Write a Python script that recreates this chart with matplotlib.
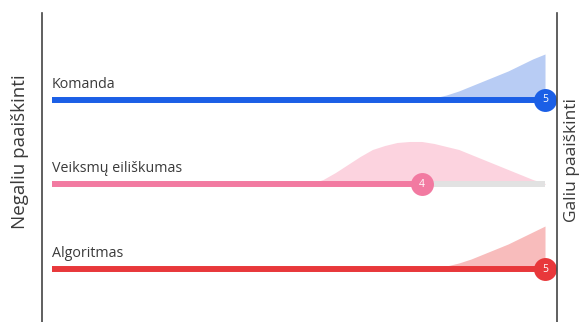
import numpy as np
import matplotlib
matplotlib.use("Agg")
import matplotlib.pyplot as plt

plt.rcParams["font.family"] = ["Open Sans", "DejaVu Sans"]

# rating scale 1..5; each row: mean score + answer distribution
CATEGORIES = ["Komanda", "Veiksmų eiliškumas", "Algoritmas"]
SCORES = [5, 4, 5]
BAR_COLORS = ["#1b5fe6", "#f27aa1", "#e8383b"]
FILL_COLORS = ["#b8ccf4", "#fcd3df", "#f8bcbc"]
LEFT_LABEL = "Negaliu paaiškinti"
RIGHT_LABEL = "Galiu paaiškinti"

# distribution curves (score grid, relative density)
DIST_X = [
    [4.0, 4.1, 4.2, 4.3, 4.4, 4.5, 4.6, 4.7, 4.8, 4.9, 5.0],
    [3.0, 3.1, 3.2, 3.3, 3.4, 3.5, 3.6, 3.7, 3.8, 3.9, 4.0,
     4.1, 4.2, 4.3, 4.4, 4.5, 4.6, 4.7, 4.8, 4.9, 5.0],
    [4.0, 4.1, 4.2, 4.3, 4.4, 4.5, 4.6, 4.7, 4.8, 4.9, 5.0],
]
DIST_Y = [
    [0, 2, 5, 9, 14, 19, 24, 29, 35, 41, 46],
    [0, 1, 5, 12, 20, 28, 35, 39, 42, 43, 43,
     41, 38, 35, 30, 25, 20, 15, 10, 5, 1],
    [0, 1, 3, 6, 10, 15, 20, 25, 31, 37, 43],
]
DIST_SCALE = 1 / 84.5          # density units -> row spacing
SCALE_MIN, SCALE_MAX = 1, 5

fig = plt.figure(figsize=(5.81, 3.22), dpi=100)
ax = fig.add_axes([0, 0, 1, 1])
ax.set_xlim(0.578, 5.292)
ax.set_ylim(2.627, -1.183)
ax.axis("off")

for i, (name, score) in enumerate(zip(CATEGORIES, SCORES)):
    dx = np.array(DIST_X[i])
    dy = np.array(DIST_Y[i]) * DIST_SCALE
    ax.fill_between(dx, i, i - dy, color=FILL_COLORS[i], lw=0, zorder=1)
    # remaining part of the scale
    ax.plot([score, SCALE_MAX], [i, i], color="#e2e2e2", lw=4.3,
            solid_capstyle="butt", zorder=2)
    ax.plot([SCALE_MIN, score], [i, i], color=BAR_COLORS[i], lw=4.3,
            solid_capstyle="butt", zorder=3)
    ax.plot(score, i, "o", ms=16.5, color=BAR_COLORS[i], mec="none", zorder=4)
    ax.text(score, i, str(score), color="white", fontsize=7.5,
            ha="center", va="center", zorder=5)
    ax.text(SCALE_MIN, i - 0.145, name, fontsize=10.3, color="#3a3a3a",
            ha="left", va="baseline")

# end walls of the scale
for xv in (0.919, 5.097):
    ax.plot([xv, xv], [-1.03, 2.7], color="#444444", lw=1.2, zorder=6)

fig.text(20 / 581, 1 - 152 / 322, LEFT_LABEL, rotation=90, fontsize=13.5,
         color="#3a3a3a", ha="center", va="center")
fig.text(572 / 581, 1 - 160 / 322, RIGHT_LABEL, rotation=90, fontsize=12.5,
         color="#3a3a3a", ha="center", va="center")

fig.savefig("out.png", dpi=100)
